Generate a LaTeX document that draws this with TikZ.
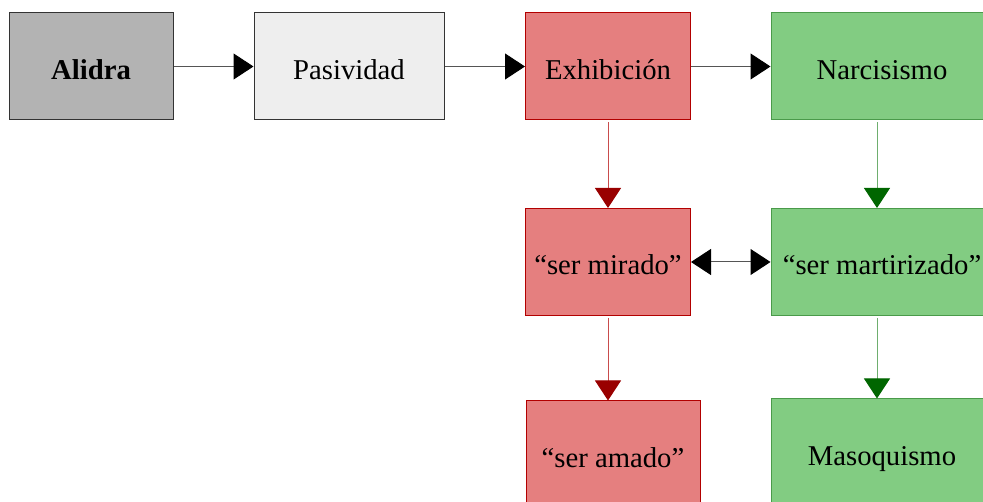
\documentclass[tikz,border=0pt]{standalone}
\usepackage{fontspec}
\setmainfont{Liberation Serif}
\usepackage{xcolor}
\definecolor{greyfill}{HTML}{B3B3B3}
\definecolor{lightfill}{HTML}{EEEEEE}
\definecolor{redfill}{HTML}{E57F7F}
\definecolor{redline}{HTML}{B20000}
\definecolor{redtip}{HTML}{990000}
\definecolor{greenfill}{HTML}{82CC82}
\definecolor{greenline}{HTML}{4A9A4A}
\definecolor{greentip}{HTML}{006600}
\definecolor{flowgrey}{HTML}{555555}
\usetikzlibrary{arrows.meta}

\begin{document}
\begin{tikzpicture}[
    x=1pt, y=-1pt,
    font=\fontsize{28.7}{34}\selectfont,
    box/.style={draw, line width=1pt, inner sep=0pt, minimum height=107pt, text height=31pt, text depth=5pt, align=center},
    greybox/.style={box, draw=black!80, fill=greyfill},
    lightbox/.style={box, draw=black!80, fill=lightfill},
    redbox/.style={box, draw=redline, fill=redfill},
    greenbox/.style={box, draw=greenline, fill=greenfill},
    flow/.style={-{Triangle[length=20pt, width=26pt, color=black]}, line width=1pt, draw=flowgrey},
    redflow/.style={-{Triangle[length=20pt, width=26pt, color=redtip]}, line width=1pt, draw=redline!70, shorten <=2pt},
    greenflow/.style={-{Triangle[length=20pt, width=26pt, color=greentip]}, line width=1pt, draw=greenline!80, shorten <=2pt},
]
\useasboundingbox (0,0) rectangle (983,502);

% -- top row --
\node[greybox, minimum width=164pt] (alidra) at (91, 66.5) {\textbf{Alidra}};
\node[lightbox, minimum width=190pt] (pasividad) at (349, 66.5) {Pasividad};
\node[redbox, minimum width=165pt] (exhib) at (608, 66.5) {Exhibición};
\node[greenbox, minimum width=222pt] (narc) at (882, 66.5) {Narcisismo};

% -- middle row --
\node[redbox, minimum width=165pt] (mirado) at (608, 262) {“ser mirado”};
\node[greenbox, minimum width=222pt] (martir) at (882, 262) {“ser martirizado”};

% -- bottom row --
\node[redbox, minimum width=174pt] (amado) at (613, 454.5) {“ser amado”};
\node[greenbox, minimum width=222pt] (masoq) at (882, 452.5) {Masoquismo};

% -- connectors --
\draw[flow] (alidra) -- (pasividad);
\draw[flow] (pasividad) -- (exhib);
\draw[flow] (exhib) -- (narc);
\draw[redflow] (exhib) -- (mirado);
\draw[redflow] (mirado) -- (mirado |- amado.north);
\draw[greenflow] ([xshift=-5pt]narc.south) -- ([xshift=-5pt]martir.north);
\draw[greenflow] ([xshift=-5pt]martir.south) -- ([xshift=-5pt]masoq.north);
\draw[flow, {Triangle[length=20pt, width=26pt, color=black]}-{Triangle[length=20pt, width=26pt, color=black]}] (mirado) -- (martir);
\end{tikzpicture}
\end{document}
